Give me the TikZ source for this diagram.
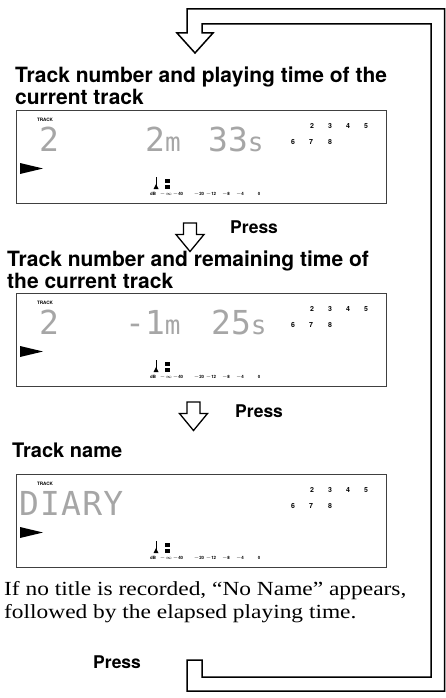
\documentclass[tikz,border=0pt]{standalone}
\usepackage{fontspec}
\setmainfont{Liberation Serif}
\newfontfamily\headfont{TeX Gyre Heros}
\newfontfamily\notefont[FakeStretch=1.17]{Liberation Serif}
\newfontfamily\lcdfont{DejaVu Sans Mono}
\newcommand{\lcdsmall}[1]{{\fontsize{26}{26}\selectfont #1}}

\begin{document}
\begin{tikzpicture}[x=1pt,y=-1pt,
		every node/.style={inner sep=0pt},
		heading/.style={anchor=north west,align=left,font=\headfont\bfseries\fontsize{21}{21.5}\selectfont},
		press/.style={anchor=base west,font=\headfont\bfseries\fontsize{17.5}{17.5}\selectfont},
		lcdbox/.style={draw=black!75,line width=1.2pt,minimum width=370pt,minimum height=93pt,anchor=north west},
		lcdtext/.style={anchor=base west,text=black!35,font=\lcdfont\fontsize{33}{33}\selectfont},
		tracklabel/.style={font=\headfont\bfseries\fontsize{4.6}{5}\selectfont},
		segnum/.style={font=\headfont\bfseries\fontsize{7}{7}\selectfont},
		meterlabel/.style={anchor=base,font=\headfont\bfseries\fontsize{4.4}{5}\selectfont},
		loopband/.style={draw,line width=1.5pt,line join=miter,fill=white},
		pressarrow/.pic={\draw[line width=1.3pt,line join=miter] (-6.5,0) -- (6.5,0) -- (6.5,11.5) -- (14,11.5) -- (0,28.5) -- (-14,11.5) -- (-6.5,11.5) -- cycle;}]
		
		\useasboundingbox (0,0) rectangle (446,698);
		
		% return loop
		\draw[loopband] (195,53) -- (177,33) -- (187,33) -- (187,9) -- (444.5,9) -- (444.5,691) -- (187,691) -- (187,660) -- (202,660) -- (202,677) -- (431,677) -- (431,24) -- (202,24) -- (202,33) -- (213,33) -- cycle;
		
		\node[heading] (head1) at (15,66.7) {Track number and playing time of the\\current track};
		\node[heading] (head2) at (7,250.7) {Track number and remaining time of\\the current track};
		\node[press,font=\headfont\bfseries\fontsize{20}{20}\selectfont] (head3) at (12,457) {Track name};
		
		% displays
		\foreach \n/\t in {1/110,2/293,3/474}{
			\node[lcdbox] (lcd\n) at (15.5,\t) {};
			\node[tracklabel] (trk\n) at (45,\t+10) {TRACK};
			\foreach \d/\x in {2/312,3/330,4/348,5/366}
				\node[segnum] (seg\n\d) at (\x,\t+16) {\d};
			\foreach \d/\x in {6/293,7/311,8/330}
				\node[segnum] (seg\n\d) at (\x,\t+32) {\d};
			\fill (20,\t+53) -- (43,\t+58.5) -- (20,\t+64) -- cycle;
			\draw[line width=0.6pt] (156,\t+67) -- (156,\t+77);
			\fill (153.5,\t+79) -- (158.5,\t+79) -- (156,\t+74) -- cycle;
			\fill (164.5,\t+69) rectangle (169.5,\t+73);
			\fill (164.5,\t+75) rectangle (169.5,\t+79);
			\foreach \x/\l [count=\i] in {153/dB,166/$-\infty$,178/$-$40,199/$-$20,211/$-$12,226/$-$8,240/$-$4,259/0}
				\node[meterlabel] (db\n\i) at (\x,\t+85) {\l};
		}
		
		\node[lcdtext] (num1) at (39,151) {2};
		\node[lcdtext] (min1) at (145,151) {2\lcdsmall{m}};
		\node[lcdtext] (sec1) at (208,151) {33\lcdsmall{s}};
		\node[lcdtext] (num2) at (39,334) {2};
		\node[lcdtext] (min2) at (125,334) {-1\lcdsmall{m}};
		\node[lcdtext] (sec2) at (211,334) {25\lcdsmall{s}};
		\node[lcdtext,font=\lcdfont\fontsize{33}{33}\addfontfeature{LetterSpace=3.5}\selectfont] (name3) at (19,515) {DIARY};
		
		\pic (pa1) at (190,223) {pressarrow};
		\node[press] (press1) at (230,233) {Press};
		\pic (pa2) at (193.5,402) {pressarrow};
		\node[press] (press2) at (235,417) {Press};
		
		\node[anchor=north west,align=left,font=\notefont\fontsize{20}{23}\selectfont] (note) at (4,581.3) {If no title is recorded, “No Name” appears,\\followed by the elapsed playing time.};
		\node[press] (press3) at (93,668) {Press};
\end{tikzpicture}
\end{document}
